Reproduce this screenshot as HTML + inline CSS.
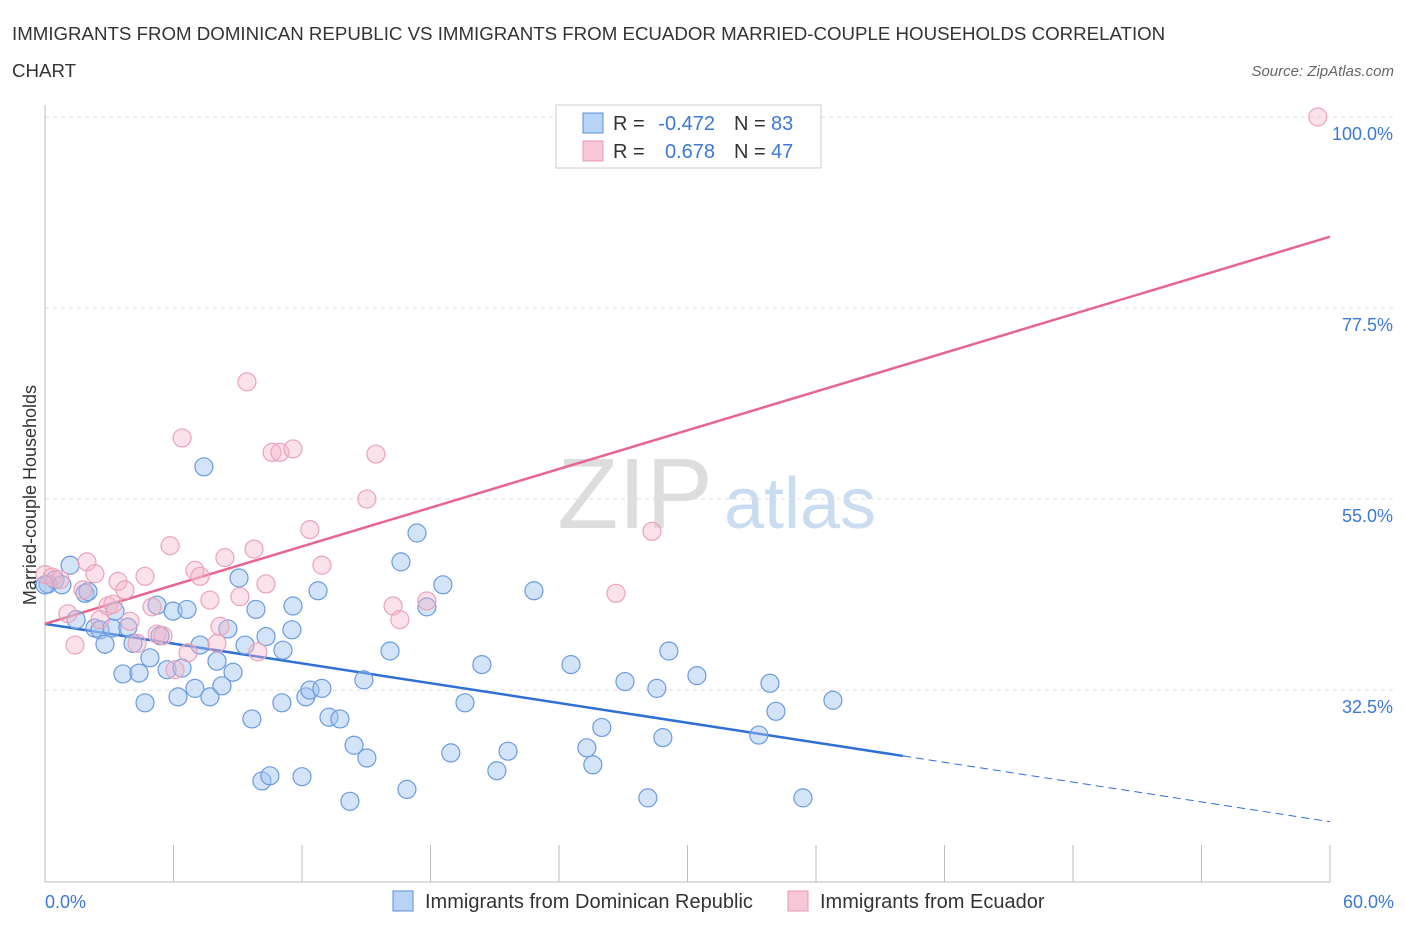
<!DOCTYPE html>
<html><head><meta charset="utf-8"><style>
body{margin:0;background:#fff;font-family:"Liberation Sans",sans-serif;}
svg text{font-family:"Liberation Sans",sans-serif;}
</style></head><body>
<svg id="chart" width="1406" height="930">
<text x="12" y="40" font-size="18.7" fill="#333">IMMIGRANTS FROM DOMINICAN REPUBLIC VS IMMIGRANTS FROM ECUADOR MARRIED-COUPLE HOUSEHOLDS CORRELATION</text>
<text x="12" y="77" font-size="18.7" fill="#333">CHART</text>
<text x="1394" y="76" font-size="15" fill="#666" font-style="italic" text-anchor="end">Source: ZipAtlas.com</text>
<text x="635" y="528" font-size="100" fill="#ddd" font-family="Liberation Serif" text-anchor="middle">ZIP</text>
<text x="800" y="528" font-size="72" fill="#c9dcf2" text-anchor="middle">atlas</text>
<g id="grid"></g><g id="axes"></g><g id="lines"></g><g id="points"></g>
<text x="36" y="495" font-size="18" fill="#333" text-anchor="middle" transform="rotate(-90 36 495)">Married-couple Households</text>
<text x="45" y="908" font-size="18" fill="#3b78d8">0.0%</text>
<text x="1394" y="908" font-size="18" fill="#3b78d8" text-anchor="end">60.0%</text>
<g>
<rect x="556" y="105" width="265" height="63" fill="#fff" stroke="#ccc"/>
<rect x="583" y="113" width="20" height="20" fill="#b8d3f5" stroke="#5b8fd8"/>
<rect x="583" y="141" width="20" height="20" fill="#f8c7d6" stroke="#e89ab3"/>
<text x="613" y="130" font-size="20" fill="#333">R =</text>
<text x="715" y="130" font-size="20" fill="#3b78d8" text-anchor="end">-0.472</text>
<text x="734" y="130" font-size="20" fill="#333">N =</text>
<text x="771" y="130" font-size="20" fill="#3b78d8">83</text>
<text x="613" y="158" font-size="20" fill="#333">R =</text>
<text x="715" y="158" font-size="20" fill="#3b78d8" text-anchor="end">0.678</text>
<text x="734" y="158" font-size="20" fill="#333">N =</text>
<text x="771" y="158" font-size="20" fill="#3b78d8">47</text>
</g>
<g>
<rect x="393" y="891" width="20" height="20" fill="#b8d3f5" stroke="#5b8fd8"/>
<text x="425" y="908" font-size="20" fill="#333">Immigrants from Dominican Republic</text>
<rect x="788" y="891" width="20" height="20" fill="#f8c7d6" stroke="#e89ab3"/>
<text x="820" y="908" font-size="20" fill="#333">Immigrants from Ecuador</text>
</g>
</svg>
<script>
const yTicks=[32.5,55.0,77.5,100.0];
const xTicks=[0,6,12,18,24,30,36,42,48,54,60];
const blueX=[0.14,0.47,0.79,1.17,1.45,1.87,2.01,2.33,2.57,2.80,3.13,3.27,3.64,3.87,4.11,4.39,4.67,4.90,5.23,5.37,5.70,5.98,6.21,6.40,6.63,7.00,7.24,7.42,7.70,8.03,8.26,8.54,8.78,9.06,9.34,9.66,9.85,10.13,10.32,10.50,11.11,11.06,11.58,11.53,12.0,12.18,12.37,12.75,12.93,13.26,13.77,14.24,14.43,14.89,15.03,16.11,16.62,16.90,17.37,17.83,18.58,18.95,19.61,20.40,21.10,21.62,22.83,24.56,25.30,25.58,26.0,27.08,28.15,28.57,28.85,29.13,30.44,33.33,33.85,34.13,35.39,36.79,0];
const blueY=[45.0,45.5,44.9,47.2,40.8,43.9,44.1,39.8,39.6,37.9,39.8,41.8,34.4,39.9,38.0,34.5,31.0,36.3,42.5,38.9,34.9,41.8,31.7,35.1,42.0,32.7,37.8,58.8,31.7,35.9,33.0,39.7,34.6,45.7,37.8,29.1,42.0,21.8,38.8,22.4,37.2,31.0,42.4,39.6,22.3,31.7,32.5,44.2,32.7,29.3,29.1,19.4,26.0,33.7,24.5,37.1,47.6,20.8,51.0,42.3,44.9,25.1,31.0,35.5,23.0,25.3,44.2,35.5,25.7,23.7,28.1,33.5,19.8,32.7,26.9,37.1,34.2,27.2,33.3,30.0,19.8,31.3,44.9];
const pinkX=[0,0.33,0.70,1.07,1.40,1.77,1.96,2.33,2.57,2.94,3.17,3.41,3.73,3.97,4.30,4.67,5.00,5.23,5.51,5.84,6.07,6.40,6.68,7.00,7.24,7.70,8.17,8.40,8.03,9.10,9.43,9.76,9.94,10.32,10.60,10.97,11.58,12.37,12.93,15.03,15.45,16.25,16.57,17.83,26.66,28.34,59.43];
const pinkY=[46.1,45.8,45.5,41.5,37.8,44.3,47.6,46.2,40.8,42.4,42.6,45.3,44.3,40.6,38.0,45.9,42.3,39.1,38.9,49.5,34.9,62.2,36.9,46.6,45.9,43.1,40.0,48.1,38.0,43.5,68.8,49.1,37.0,45.0,60.5,60.5,60.9,51.4,47.2,55.0,60.3,42.4,40.8,43.0,43.9,51.2,100];
const blueTrend=[40.3,17.0];const blueSolidEnd=40.06;
const pinkTrend=[40.3,85.9];
const NS='http://www.w3.org/2000/svg';
const sx=v=>45+v*1285/60, sy=v=>117+(100-v)*8.49;
function mk(p,t,a){const e=document.createElementNS(NS,t);for(const k in a)e.setAttribute(k,a[k]);p.appendChild(e);return e;}
const g=document.getElementById('grid'),ax=document.getElementById('axes'),ln=document.getElementById('lines'),pt=document.getElementById('points');
yTicks.forEach(v=>{const l=mk(g,'line',{x1:45,x2:1394,y1:sy(v),y2:sy(v),stroke:'#ddd','stroke-dasharray':'4 4'});


const t=mk(g,'text',{x:1393,y:sy(v)+23,'font-size':18,fill:'#3b78d8','text-anchor':'end'});t.textContent=v.toFixed(1)+'%';

});
const a1=mk(ax,'line',{x1:45,x2:45,y1:105,y2:882,stroke:'#bbb'});


const a2=mk(ax,'line',{x1:45,x2:1330,y1:882,y2:882,stroke:'#bbb'});


xTicks.forEach(v=>{const l=mk(ax,'line',{x1:sx(v),x2:sx(v),y1:845,y2:882,stroke:'#bbb'});

});
function dot(x,y,f,s,n){const c=mk(pt,'circle',{cx:sx(x),cy:sy(y),r:9,fill:f,stroke:s,'stroke-width':1.2});

}
blueX.forEach((x,i)=>dot(x,blueY[i],'rgba(160,195,240,0.45)','#6a9be0','dominican-point'));
pinkX.forEach((x,i)=>dot(x,pinkY[i],'rgba(245,180,200,0.4)','#eba3ba','ecuador-point'));
const by=x=>blueTrend[0]+(blueTrend[1]-blueTrend[0])*x/60;
const l1=mk(ln,'line',{x1:sx(0),y1:sy(by(0)),x2:sx(blueSolidEnd),y2:sy(by(blueSolidEnd)),stroke:'#2f6fd6','stroke-width':2.5});


const l2=mk(ln,'line',{x1:sx(blueSolidEnd),y1:sy(by(blueSolidEnd)),x2:sx(60),y2:sy(by(60)),stroke:'#2f6fd6','stroke-width':1,'stroke-dasharray':'8 5'});


const l3=mk(ln,'line',{x1:sx(0),y1:sy(pinkTrend[0]),x2:sx(60),y2:sy(pinkTrend[1]),stroke:'#e8658f','stroke-width':2.5});


</script>
</body></html>
